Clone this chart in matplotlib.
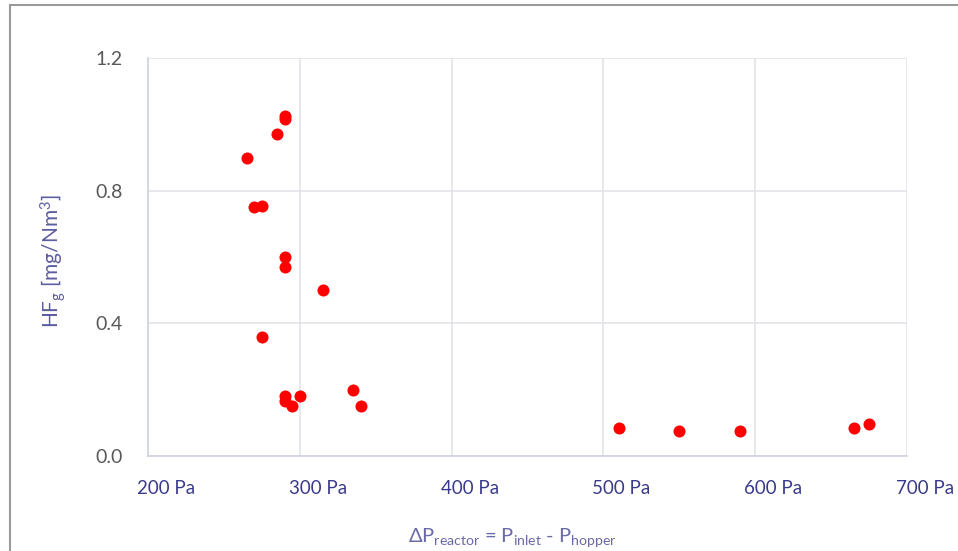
import matplotlib
matplotlib.use("Agg")
import matplotlib.pyplot as plt
import matplotlib.transforms as mtransforms
from matplotlib.patches import Rectangle

# pressure drop over reactor [Pa] and HF concentration [mg/Nm3]
dp_pa = [265, 270, 275, 285, 290, 290, 290, 290, 315, 275,
         290, 290, 295, 300, 335, 340, 510, 550, 590, 665, 675]
hf_g = [0.90, 0.75, 0.755, 0.97, 1.025, 1.015, 0.60, 0.57, 0.50, 0.36,
        0.18, 0.165, 0.15, 0.18, 0.20, 0.15, 0.085, 0.075, 0.075, 0.085, 0.097]

x_ticks = [200, 300, 400, 500, 600, 700]
x_ticklabels = [f"{v} Pa" for v in x_ticks]
y_ticks = [0.0, 0.4, 0.8, 1.2]

plt.rcParams['font.family'] = ['Lato', 'DejaVu Sans']

fig = plt.figure(figsize=(9.58, 5.51), dpi=100)
ax = fig.add_axes([0.1545, 0.1724, 0.7923, 0.7223])

ax.scatter(dp_pa, hf_g, s=75, color="#ff0000", zorder=3, linewidths=0)

ax.set_xlim(200, 700)
ax.set_ylim(0, 1.2)
ax.set_xticks(x_ticks)
ax.set_xticklabels(x_ticklabels)
ax.set_yticks(y_ticks)
ax.set_yticklabels([f"{v:.1f}" for v in y_ticks])

ax.grid(True, color="#e1e4ea", linewidth=1.2)
ax.set_axisbelow(True)
for side in ["top", "right"]:
    ax.spines[side].set_visible(False)
for side in ["left", "bottom"]:
    ax.spines[side].set_color("#cdd3de")
    ax.spines[side].set_linewidth(1.2)

ax.tick_params(axis="x", length=0, pad=17, labelsize=13.5, labelcolor="#3a3a8c")
ax.tick_params(axis="y", length=0, pad=18, labelsize=14, labelcolor="#595959")

# Excel-like offset of x tick labels to the right
offset = mtransforms.ScaledTranslation(0.18, 0, fig.dpi_scale_trans)
for lab in ax.get_xticklabels():
    lab.set_transform(lab.get_transform() + offset)

ax.set_xlabel(r"$\mathregular{\Delta P_{reactor}}$ = $\mathregular{P_{inlet}}$ - $\mathregular{P_{hopper}}$",
              fontsize=14.5, color="#6a6aa8")
ax.set_ylabel(r"HF$\mathregular{_g}$ [mg/Nm$\mathregular{^3}$]",
              fontsize=15, color="#5c5ca0")
ax.xaxis.set_label_coords(0.48, -0.175)
ax.yaxis.set_label_coords(-0.105, 0.49)

# chart frame
fig.patches.append(Rectangle((10 / 958, -0.1), 1.2, 1.1 - 5 / 551,
                             transform=fig.transFigure, fill=False,
                             edgecolor="#9a9a9a", linewidth=1.5))

fig.savefig("out.png", dpi=100)
